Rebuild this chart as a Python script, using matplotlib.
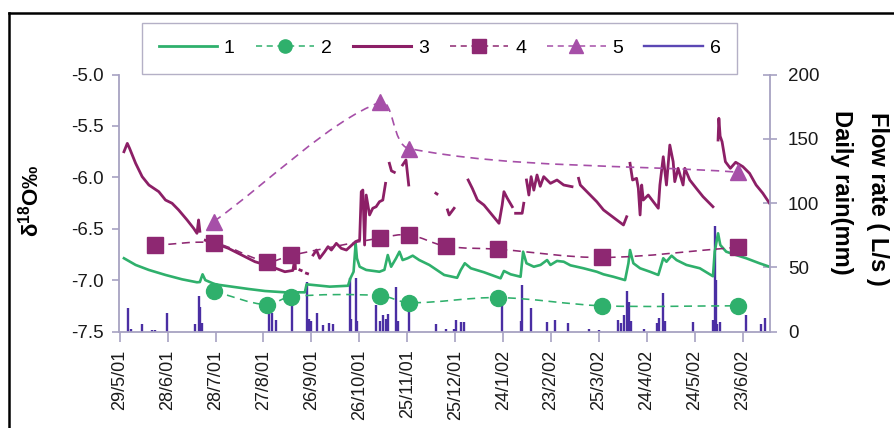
import numpy as np
import matplotlib
matplotlib.use("Agg")
import matplotlib.pyplot as plt
import matplotlib.dates as mdates
from matplotlib.path import Path
from matplotlib.patches import PathPatch
from matplotlib.lines import Line2D
from matplotlib.ticker import FormatStrFormatter

plt.rcParams['font.family'] = ['Liberation Sans', 'DejaVu Sans']
plt.rcParams['axes.unicode_minus'] = False
plt.rcParams['mathtext.fontset'] = 'custom'
plt.rcParams['mathtext.rm'] = 'Liberation Sans'
plt.rcParams['mathtext.bf'] = 'Liberation Sans:bold'

# ---------------------------------------------------------------- data
record_start = '2001-05-29'
record_end = '2002-07-10'

tick_dates = ['2001-05-29', '2001-06-28', '2001-07-28', '2001-08-27', '2001-09-26',
              '2001-10-26', '2001-11-25', '2001-12-25', '2002-01-24', '2002-02-23',
              '2002-03-25', '2002-04-24', '2002-05-24', '2002-06-23']
tick_labels = ['29/5/01', '28/6/01', '28/7/01', '27/8/01', '26/9/01', '26/10/01',
               '25/11/01', '25/12/01', '24/1/02', '23/2/02', '25/3/02', '24/4/02',
               '24/5/02', '23/6/02']

series_names = ['1', '2', '3', '4', '5', '6']

# 1: discharge of spring 1 (L/s), days after record start
flow1_days = [2.7, 10.0, 18.3, 28.7, 39.1, 48.4, 50.2, 51.9, 53.6, 59.8, 70.2, 80.6, 91.0,
              103.4, 115.9, 117.0, 121.1, 131.5, 142.9, 144.4, 146.4, 147.7, 148.5, 150.2,
              154.3, 162.6, 165.7, 167.8, 169.9, 173.0, 175.1, 177.1, 180.2, 183.4, 187.5,
              193.8, 203.1, 211.2, 213.5, 216.0, 219.8, 228.0, 238.4, 240.5, 244.7, 250.9,
              252.5, 254.6, 259.2, 263.4, 267.5, 269.6, 273.7, 277.9, 282.1, 290.3, 298.6,
              302.8, 309.0, 316.3, 318.4, 319.4, 321.5, 325.7, 331.9, 337.1, 340.2, 342.2,
              345.4, 348.5, 354.7, 363.1, 371.3, 372.4, 374.5, 375.9, 379.6, 385.8, 392.1,
              400.4, 406.7]
flow1 = [57.0, 51.8, 47.9, 44.0, 40.6, 38.3, 38.5, 44.5, 40.0, 36.7, 34.9, 33.1, 31.5,
         30.5, 30.5, 36.7, 36.2, 34.9, 35.6, 41.4, 46.5, 68.6, 57.0, 50.4,
         47.9, 46.5, 48.0, 59.5, 50.4, 57.0, 62.1, 55.6, 57.0, 59.0, 55.6,
         51.8, 44.0, 41.8, 47.9, 53.1, 49.2, 46.1, 41.4, 47.1, 44.5, 42.6,
         62.1, 53.1, 50.4, 51.8, 55.6, 51.8, 54.9, 54.3, 51.5, 49.2, 46.5,
         44.5, 42.6, 40.0, 53.1, 63.4, 53.1, 49.2, 46.5, 44.0, 57.0, 54.3,
         59.0, 55.6, 51.8, 49.2, 43.0, 62.1, 76.4, 67.3, 62.1, 59.5, 57.0,
         53.1, 50.4]

# 2: delta-18O of spring 1
iso1_dates = ['2001-07-27', '2001-08-29', '2001-09-13', '2001-11-08', '2001-11-26',
              '2002-01-21', '2002-03-27', '2002-06-20']
iso1 = [-7.11, -7.24, -7.16, -7.15, -7.22, -7.17, -7.25, -7.25]

# 3: discharge of spring 2 (L/s); nan marks missing records
nan = float('nan')
flow3_days = [2.7, 4.8, 6.2, 10.0, 14.1, 18.3, 24.5, 28.7, 32.8, 36.9, 42.2, 46.3, 48.4,
              49.4, 50.2, 51.5,
              53.6, 59.8, 68.1, 76.4, 84.7, 95.1, 103.4, 108.4, 109.7, 110.0, 111.0,
              112.8, 113.6, 115.0, 116.9, 117.6, 119.0,
              121.1, 123.2, 125.2, 128.3, 130.4, 132.5, 135.6, 138.7, 141.9, 147.7, 150.2,
              151.2, 152.2, 153.3, 154.3, 156.4, 158.4, 160.5, 162.6, 164.7, 166.4, 167.5,
              168.8, 170.1, 171.9, 174.0,
              177.1, 179.2, 180.9, 189.0,
              197.9, 198.6, 201.0,
              205.2, 206.2, 209.3, 214.0,
              218.1, 220.7, 223.9, 228.0, 232.2, 237.4, 239.4, 240.5, 242.6, 245.7, 246.7,
              247.8, 251.9, 252.9, 253.8,
              254.6, 256.1, 257.5, 259.2, 261.2, 263.2, 265.4, 269.6, 273.7, 277.9, 283.1,
              285.0,
              287.2, 288.3, 294.5, 298.6, 302.8, 306.9, 311.1, 315.3, 317.3, 318.4,
              319.4, 321.0, 323.5, 324.6, 325.7, 326.7, 327.7, 330.8, 334.0, 337.1, 338.1,
              340.2, 342.2, 344.3, 346.4, 347.4, 349.5, 352.6, 353.7, 356.8, 360.9, 365.1,
              371.3, 373.0,
              374.5, 375.0, 375.8, 377.0, 379.1, 382.2, 385.5, 390.0, 394.2, 398.3, 402.5,
              406.7]
flow3 = [139.9, 146.4, 142.6, 130.9, 120.5, 114.0, 108.8, 102.3, 99.8, 94.6, 86.8, 80.3, 76.4,
         86.8, 78.0, nan,
         71.0, 68.6, 64.7, 59.5, 54.3, 50.4, 46.5, 47.5, 57.0, 49.0, nan,
         47.9, 47.5, nan, 45.3, 45.0, nan,
         59.5, 63.4, 57.0, 62.1, 66.0, 63.4, 68.6, 64.7, 63.4, 70.0, 71.2,
         108.8, 110.1, 67.3, 106.2, 90.7, 95.9, 97.1, 101.0, 102.3, 115.3, nan,
         130.9, 125.0, 123.9, nan,
         129.6, 133.5, 114.0, nan,
         107.6, 107.0, nan,
         94.6, 90.7, 95.9, nan,
         117.9, 111.4, 102.3, 98.4, 92.0, 84.2, 98.4, 108.8, 103.7, 97.1, nan,
         92.0, 92.0, 99.8, nan,
         117.9, 106.2, 120.5, 110.0, 121.8, 113.0, 120.5, 115.3, 117.9, 114.0, 112.7,
         nan,
         119.2, 114.0, 106.2, 101.0, 94.6, 90.7, 86.8, 82.9, 89.3, nan,
         130.9, 117.9, 119.2, 111.4, 90.7, 114.0, 102.3, 106.2, 101.0, 95.9, 114.0,
         136.0, 114.0, 145.1, 132.1, 116.6, 127.0, 114.0, 127.0, 117.9, 111.4, 104.9,
         97.1, nan,
         149.0, 165.9, 152.0, 147.7, 132.1, 127.0, 131.7, 128.3, 123.1, 114.0, 107.6,
         99.8]

# 4: delta-18O of spring 2
iso2_dates = ['2001-06-20', '2001-07-27', '2001-08-29', '2001-09-13', '2001-11-08',
              '2001-11-26', '2001-12-19', '2002-01-21', '2002-03-27', '2002-06-20']
iso2 = [-6.66, -6.64, -6.82, -6.76, -6.59, -6.56, -6.67, -6.70, -6.78, -6.68]

# 5: delta-18O of precipitation
iso_rain_dates = ['2001-07-27', '2001-11-08', '2001-11-26', '2002-06-20']
iso_rain = [-6.43, -5.27, -5.72, -5.95]

# 6: daily rainfall (mm), days after record start
rain_days = [5.2, 7.0, 13.7, 20.0, 22.0, 29.7, 47.0, 49.4, 50.4, 51.4, 93.5, 95.2, 97.7,
             107.6, 117.3, 118.3, 119.5, 123.8, 127.0, 131.0, 133.5, 143.9, 145.0, 147.7,
             148.5, 160.5, 163.0, 165.0, 167.0, 168.0, 173.0, 174.0, 181.3, 198.0, 204.5,
             209.0, 210.8, 213.9, 215.5, 239.0, 251.0, 252.0, 257.5, 267.5, 272.7, 280.6,
             293.5, 300.0, 312.0, 314.0, 315.7, 317.4, 318.5, 320.0, 328.0, 336.0, 337.7,
             340.2, 341.0, 358.5, 371.3, 372.4, 373.1, 374.0, 375.9, 391.7, 401.5, 404.0]
rain_mm = [18.5, 2.0, 5.6, 1.0, 1.0, 14.6, 5.6, 27.6, 19.3, 6.4, 21.9, 14.2, 9.0,
           24.5, 38.8, 10.0, 8.0, 14.6, 5.0, 6.4, 5.6, 41.9, 10.0, 41.9,
           8.0, 20.6, 8.0, 12.8, 10.0, 14.0, 34.9, 8.0, 28.4, 5.6, 2.0,
           2.0, 9.0, 7.1, 7.5, 23.2, 8.0, 36.2, 18.5, 7.6, 9.0, 6.8,
           2.0, 1.5, 9.0, 7.0, 12.8, 31.5, 23.2, 8.0, 2.0, 7.0, 10.3,
           29.7, 8.0, 7.6, 9.0, 82.1, 40.0, 6.0, 7.6, 12.8, 5.6, 10.7]

# ---------------------------------------------------------------- styles
GREEN = '#2fb06c'
PLUM = '#8c1f66'
PLUM_MARK = '#8e2872'
ORCHID = '#a64fa8'
RAIN = '#4a2ea3'
SPINE = '#a7a2c2'

style1 = dict(color=GREEN, lw=1.9, solid_joinstyle='round')
style3 = dict(color=PLUM, lw=2.0, solid_joinstyle='round')
dash2 = dict(color=GREEN, lw=1.15, dashes=(5, 3.5))
dash4 = dict(color=PLUM_MARK, lw=1.15, dashes=(5, 3.5))
dash5 = dict(color=ORCHID, lw=1.2, dashes=(5, 3.5))
mark2 = dict(marker='o', ms=11.5, mfc=GREEN, mec=GREEN)
mark4 = dict(marker='s', ms=11.5, mfc=PLUM_MARK, mec=PLUM_MARK)
mark5 = dict(marker='^', ms=11.5, mfc=ORCHID, mec=ORCHID)


def to_num(dates):
    return mdates.date2num(np.array(dates, dtype='datetime64[D]'))


def offset_num(days):
    return mdates.date2num(np.datetime64(record_start)) + np.asarray(days, dtype=float)


def smooth_path(ax, x, y):
    """Bezier path through the points, tangents scaled by chord length (screen space)."""
    pts = ax.transData.transform(np.column_stack([x, y]))
    n = len(pts)
    verts = [pts[0]]
    codes = [Path.MOVETO]
    for i in range(n - 1):
        p0 = pts[i - 1] if i > 0 else pts[i]
        p1, p2 = pts[i], pts[i + 1]
        p3 = pts[i + 2] if i + 2 < n else pts[i + 1]
        d01 = np.hypot(*(p1 - p0))
        d12 = np.hypot(*(p2 - p1))
        d23 = np.hypot(*(p3 - p2))
        c1 = p1 + (p2 - p0) * (d12 / (d01 + d12) / 3.0)
        c2 = p2 - (p3 - p1) * (d12 / (d12 + d23) / 3.0)
        verts += [c1, c2, p2]
        codes += [Path.CURVE4] * 3
    data_verts = ax.transData.inverted().transform(np.array(verts))
    return Path(data_verts, codes)


def dashed_smooth(ax, x, y, color, lw, dashes):
    patch = PathPatch(smooth_path(ax, x, y), facecolor='none', edgecolor=color,
                      lw=lw, linestyle=(0, dashes), zorder=3)
    ax.add_patch(patch)


# ---------------------------------------------------------------- figure
W, H = 895, 428
fig = plt.figure(figsize=(W / 100, H / 100), dpi=100)
fig.patch.set_facecolor('white')

ax_l, ax_r, ax_t, ax_b = 119, 770, 74.5, 331.5
ax = fig.add_axes([ax_l / W, 1 - ax_b / H, (ax_r - ax_l) / W, (ax_b - ax_t) / H])
ax2 = ax.twinx()

x0 = mdates.date2num(np.datetime64(record_start)) - 0.4
x1 = mdates.date2num(np.datetime64(record_end))
ax.set_xlim(x0, x1)
ax.set_ylim(-7.5, -5.0)
ax2.set_ylim(0, 200)

# right axis: discharge and rainfall
ax2.vlines(offset_num(rain_days), 0, rain_mm, color=RAIN, lw=1.7, zorder=1)
ax2.plot(offset_num(flow1_days), flow1, zorder=2, **style1)
ax2.plot(offset_num(flow3_days), flow3, zorder=2, **style3)

# left axis: isotopes, drawn above the right-axis layers
ax.set_zorder(ax2.get_zorder() + 1)
ax.patch.set_visible(False)

for dates, vals, dash, mark in [(iso1_dates, iso1, dash2, mark2),
                                (iso2_dates, iso2, dash4, mark4),
                                (iso_rain_dates, iso_rain, dash5, mark5)]:
    xs = to_num(dates)
    dashed_smooth(ax, xs, vals, dash['color'], dash['lw'], dash['dashes'])
    ax.plot(xs, vals, ls='none', zorder=4, **mark)

# axes styling
for a in (ax, ax2):
    for s in a.spines.values():
        s.set_visible(False)
        s.set_color(SPINE)
        s.set_linewidth(1.3)
ax.spines['left'].set_visible(True)
ax.spines['bottom'].set_visible(True)
ax2.spines['right'].set_visible(True)

ax.set_yticks(np.arange(-7.5, -4.99, 0.5))
ax.yaxis.set_major_formatter(FormatStrFormatter('%.1f'))
ax2.set_yticks(np.arange(0, 201, 50))
ax.set_xticks(to_num(tick_dates))
ax.set_xticklabels(tick_labels, rotation=90)

ax.tick_params(axis='y', direction='out', length=5, width=1.2, color=SPINE,
               labelsize=13.5, pad=6, labelcolor='#1a1a1a')
ax.tick_params(axis='x', direction='out', length=7, width=1.2, color=SPINE,
               labelsize=13, pad=6, labelcolor='#1a1a1a')
ax2.tick_params(axis='y', direction='inout', length=10, width=1.2, color=SPINE,
                labelsize=13.5, pad=8, labelcolor='#1a1a1a')

ax.set_ylabel('δ$^{\\mathbf{18}}$O‰', fontsize=16, fontweight='bold')
ax.yaxis.set_label_coords((43 - ax_l) / (ax_r - ax_l), 0.51)

ax2.text((878 - ax_l) / (ax_r - ax_l), 0.515, 'Flow rate ( L/s )', rotation=270,
         transform=ax2.transAxes, ha='center', va='center', fontsize=17,
         fontweight='bold')
ax2.text((842 - ax_l) / (ax_r - ax_l), 0.54, 'Daily rain(mm)', rotation=270,
         transform=ax2.transAxes, ha='center', va='center', fontsize=17,
         fontweight='bold')

# legend
handles = [
    Line2D([], [], color=GREEN, lw=2.0),
    Line2D([], [], color=GREEN, lw=1.1, dashes=(4, 3), marker='o', ms=9.5,
           mfc=GREEN, mec=GREEN),
    Line2D([], [], color=PLUM, lw=2.2),
    Line2D([], [], color=PLUM_MARK, lw=1.1, dashes=(4, 3), marker='s', ms=9.5,
           mfc=PLUM_MARK, mec=PLUM_MARK),
    Line2D([], [], color=ORCHID, lw=1.1, dashes=(4, 3), marker='^', ms=9.5,
           mfc=ORCHID, mec=ORCHID),
    Line2D([], [], color='#5b47b4', lw=1.7),
]
leg = fig.legend(handles, series_names, loc='center', ncol=6, mode='expand',
                 bbox_to_anchor=(142 / W, 1 - 75 / H, 595 / W, 53 / H),
                 bbox_transform=fig.transFigure, fontsize=14, frameon=True,
                 fancybox=False, borderpad=0.85, handlelength=3.0,
                 handletextpad=0.35, columnspacing=1.2, borderaxespad=0)
leg.get_frame().set_edgecolor('#a19db8')
leg.get_frame().set_linewidth(1.0)

# outer frame
fig.add_artist(Line2D([9.5 / W, 9.5 / W], [0, 1 - 12.5 / H], transform=fig.transFigure,
                      color='black', lw=1.8))
fig.add_artist(Line2D([9.5 / W, 1], [1 - 12.5 / H, 1 - 12.5 / H],
                      transform=fig.transFigure, color='black', lw=1.8))

fig.savefig('out.png', dpi=100, facecolor='white')
